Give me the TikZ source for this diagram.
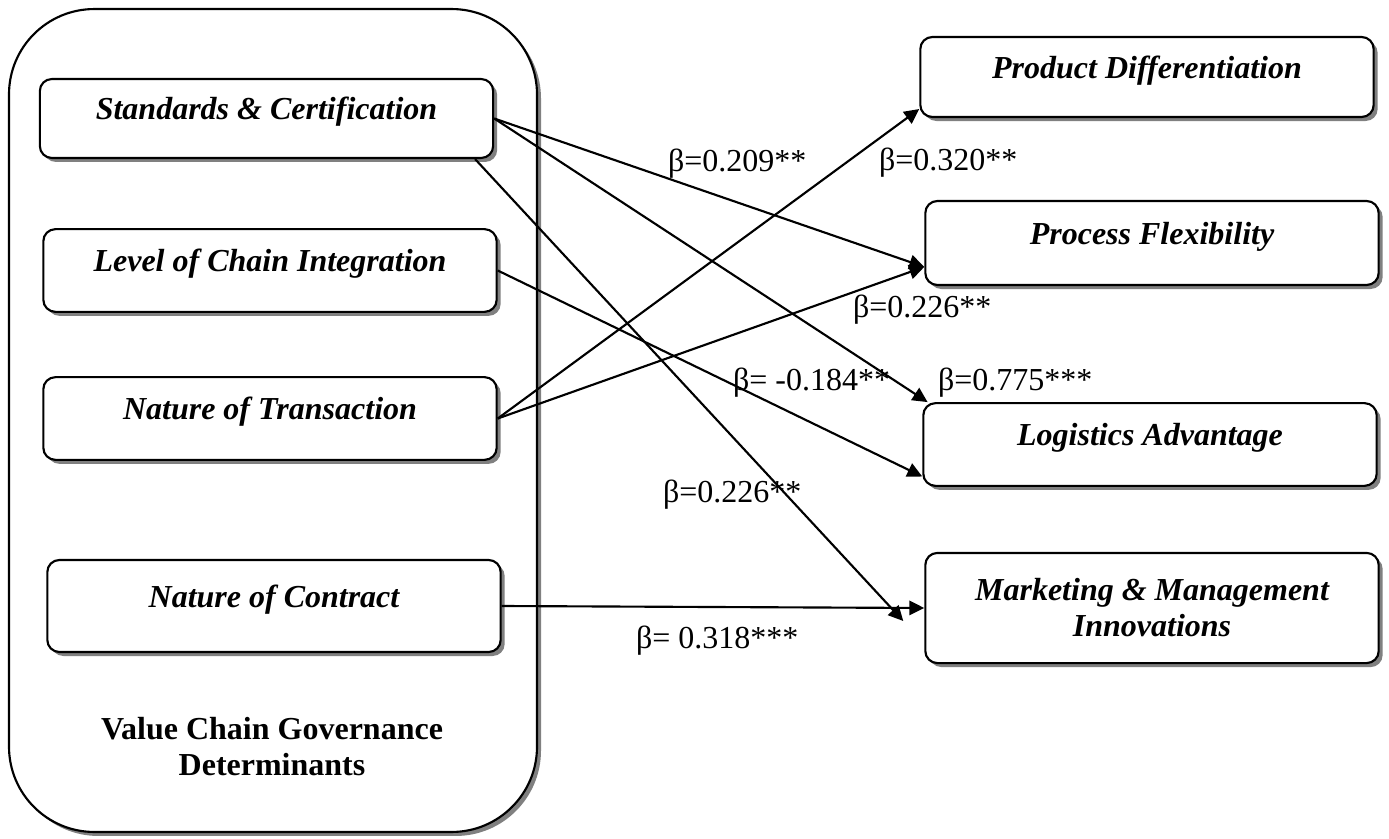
\documentclass[tikz,border=0pt]{standalone}
\usepackage{fontspec}
\setmainfont{Liberation Serif}
\usetikzlibrary{arrows.meta,shadows}

\tikzset{
    govbox/.style={draw, fill=white, rounded corners=4.5pt,
        drop shadow={shadow xshift=1.5pt, shadow yshift=-1.5pt, fill=black!50, opacity=1},
        minimum width=170pt, minimum height=31pt, inner sep=0pt,
        font=\fontsize{12}{13.5}\selectfont\bfseries\itshape,
        text height=9pt, text depth=8pt},
    beta/.style={anchor=base west, inner sep=0pt, font=\fontsize{12}{13.5}\selectfont},
}

\begin{document}
\begin{tikzpicture}[x=0.375pt, y=-0.375pt, line width=0.8pt, >={Triangle[length=5.6pt,width=5.4pt]}]
        \useasboundingbox (0, 0) rectangle (1389, 839);

        \node[draw, fill=white, rounded corners=32pt,
            drop shadow={shadow xshift=1.5pt, shadow yshift=-1.5pt, fill=black!50, opacity=1},
            minimum width=198pt, minimum height=308.6pt] at (273, 420.5)(frame){};
        \node[font=\fontsize{12}{13.5}\selectfont\bfseries, align=center] at (272, 747)(title){Value Chain Governance\\Determinants};

        \node[govbox, minimum height=29.6pt] at (266.5, 118.5)(sc){Standards \& Certification};
        \node[govbox] at (270, 270.5)(lci){Level of Chain Integration};
        \node[govbox] at (270, 418.5)(nt){Nature of Transaction};
        \node[govbox, minimum height=34.5pt] at (274, 606)(nc){Nature of Contract};

        \node[govbox, minimum height=30pt] at (1147, 77)(pd){Product Differentiation};
        \node[govbox, minimum height=31.5pt] at (1152, 243)(pf){Process Flexibility};
        \node[govbox] at (1150, 444.5)(la){Logistics Advantage};
        \node[govbox, minimum height=41.3pt, align=center, text height=, text depth=] at (1152, 608)(mmi){Marketing \& Management\\Innovations};

        \path[->]
        (sc.east)edge(pf.186)
        (sc.east)edge([xshift=2pt]la.north west)
        (sc.-11)edge([shift={(-21,13)}]mmi.west)
        (lci.east)edge(la.188)
        (nt.east)edge(pd.188)
        (nt.east)edge(pf.186)
        (nc.east)edge(mmi.west)
        ;

        \node[beta] at (667, 171)(b1){β=0.209**};
        \node[beta] at (878, 170)(b2){β=0.320**};
        \node[beta] at (852, 317)(b3){β=0.226**};
        \node[beta] at (732, 390)(b4){β= -0.184**};
        \node[beta] at (937, 390)(b5){β=0.775***};
        \node[beta] at (662, 502)(b6){β=0.226**};
        \node[beta] at (635, 648)(b7){β= 0.318***};
    \end{tikzpicture}
\end{document}
